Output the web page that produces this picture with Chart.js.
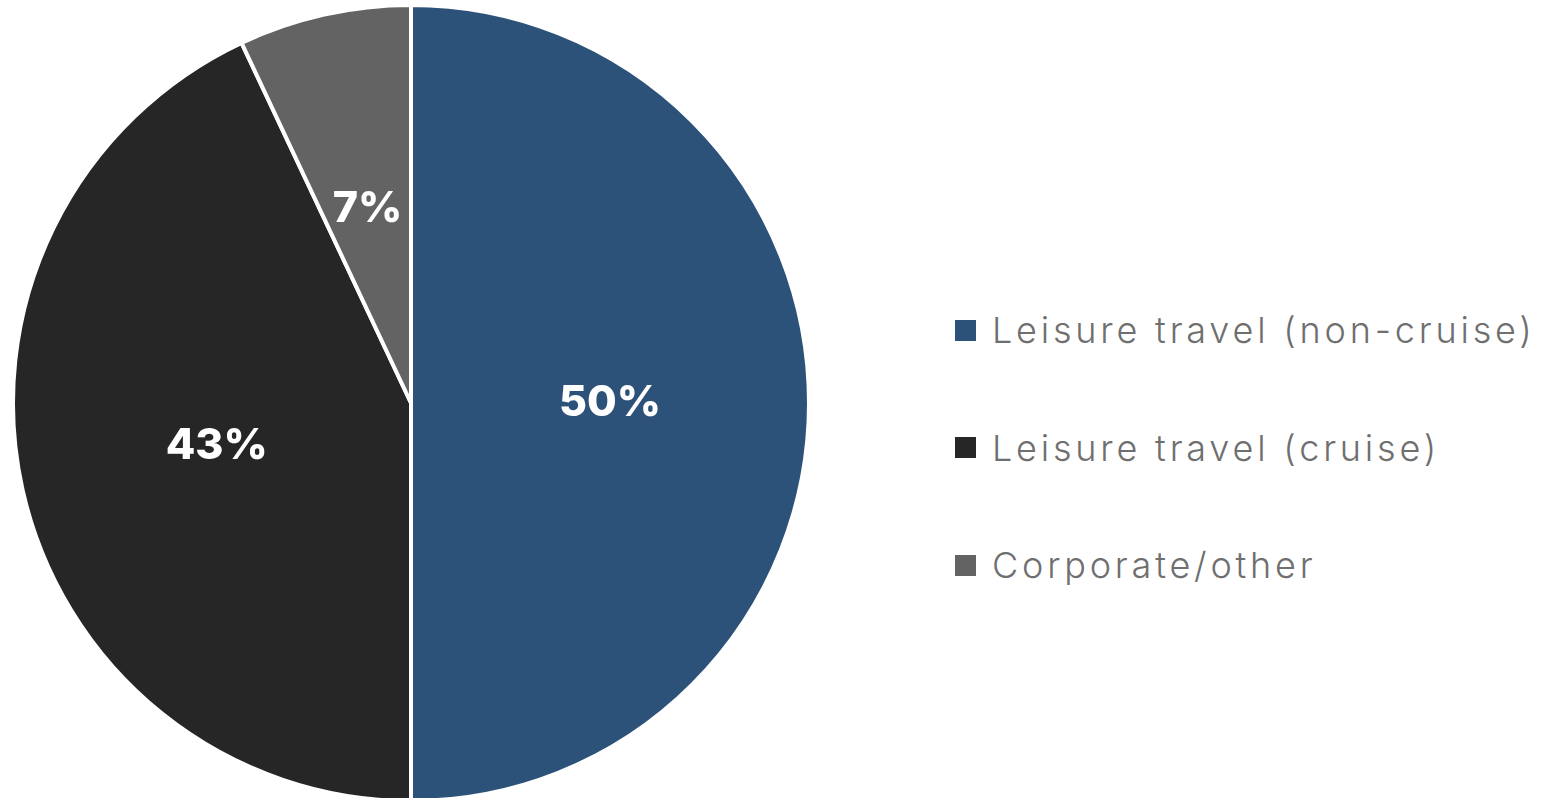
<!DOCTYPE html>
<html lang="en">
<head>
    <meta charset="UTF-8">
    <title>Travel Mix</title>
    <script src="https://cdn.jsdelivr.net/npm/chart.js@4/dist/chart.umd.min.js"></script>
    <style>
        html, body {
            margin: 0;
            padding: 0;
            background: #ffffff;
            width: 1552px;
            height: 798px;
            overflow: hidden;
        }
        .pie-wrap {
            position: absolute;
            left: 11px;
            top: 3px;
            width: 800px;
            height: 800px;
        }
        .legend {
            position: absolute;
            left: 955px;
            top: 307px;
            font-family: 'Inter', sans-serif;
            font-weight: 300;
            font-size: 36px;
            color: #6f6f6f;
            letter-spacing: 3.8px;
        }
        .legend-item {
            display: flex;
            align-items: center;
            height: 46px;
            margin-bottom: 71.5px;
            white-space: nowrap;
        }
        .legend-box {
            width: 21px;
            height: 21px;
            margin-right: 16px;
            flex: none;
        }
    </style>
</head>
<body>
    <div class="pie-wrap"><canvas id="mixChart"></canvas></div>
    <div class="legend" id="legend"></div>

    <script>
        const categories = ['Leisure travel (non-cruise)', 'Leisure travel (cruise)', 'Corporate/other'];
        const shares = [50, 43, 7];
        const sliceColors = ['#2c5279', '#262626', '#636363'];

        // white percentage text in the middle of each slice
        const sliceLabels = {
            id: 'sliceLabels',
            afterDatasetsDraw(chart) {
                const ctx = chart.ctx;
                const meta = chart.getDatasetMeta(0);
                ctx.save();
                ctx.fillStyle = '#ffffff';
                ctx.font = '800 43px Inter, sans-serif';
                ctx.textAlign = 'center';
                ctx.textBaseline = 'middle';
                meta.data.forEach((arc, i) => {
                    const pos = arc.tooltipPosition();
                    ctx.fillText(shares[i] + '%', pos.x, pos.y);
                });
                ctx.restore();
            }
        };

        new Chart(document.getElementById('mixChart'), {
            type: 'pie',
            data: {
                labels: categories,
                datasets: [{
                    data: shares,
                    backgroundColor: sliceColors,
                    borderColor: '#ffffff',
                    borderWidth: 4
                }]
            },
            options: {
                responsive: true,
                maintainAspectRatio: false,
                animation: false,
                plugins: {
                    legend: { display: false },
                    tooltip: { enabled: false }
                }
            },
            plugins: [sliceLabels]
        });

        const legend = document.getElementById('legend');
        categories.forEach((name, i) => {
            const item = document.createElement('div');
            item.className = 'legend-item';
            const box = document.createElement('span');
            box.className = 'legend-box';
            box.style.background = sliceColors[i];
            const text = document.createElement('span');
            text.textContent = name;
            item.appendChild(box);
            item.appendChild(text);
            legend.appendChild(item);
        });
    </script>
</body>
</html>
